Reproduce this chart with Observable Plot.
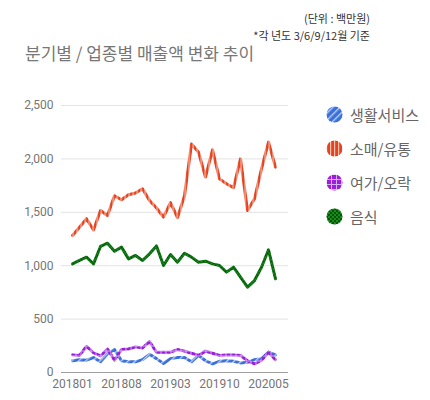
<!DOCTYPE html>
<html><head><meta charset="utf-8">
<script src="https://cdn.jsdelivr.net/npm/d3@7"></script>
<script src="https://cdn.jsdelivr.net/npm/@observablehq/plot@0.6"></script>
<style>
body{margin:0;background:#fff;font-family:Roboto,"Noto Sans CJK KR",sans-serif;}
#wrap{position:relative;width:430px;height:400px;overflow:hidden;}
.note{position:absolute;right:60px;font-size:11px;color:#333;white-space:nowrap;font-family:"Noto Sans CJK KR",sans-serif;}
#title{position:absolute;left:25px;top:40px;font-size:17px;color:#777;white-space:nowrap;font-family:"Noto Sans CJK KR",sans-serif;}
#chart{position:absolute;left:0;top:70px;}
#legend{position:absolute;left:326px;top:97px;}
.item{display:flex;align-items:center;height:34px;font-size:15px;color:#666;font-family:"Noto Sans CJK KR",sans-serif;white-space:nowrap;}
.item svg{margin-right:7px;}
</style></head>
<body>
<svg width="0" height="0" style="position:absolute">
<defs>
<pattern id="p0" width="5" height="5" patternUnits="userSpaceOnUse" patternTransform="rotate(45)">
<rect width="5" height="5" fill="#3b6fd9"/><rect width="1.4" height="5" fill="#b9ccf2"/></pattern>
<pattern id="p1" width="4" height="4" patternUnits="userSpaceOnUse">
<rect width="4" height="4" fill="#e5421d"/><rect width="1.2" height="4" fill="#f8c2b4"/></pattern>
<pattern id="p2" width="5" height="5" patternUnits="userSpaceOnUse">
<rect width="5" height="5" fill="#9a1fd8"/><rect width="1" height="5" fill="#d7aef2"/><rect width="5" height="1" fill="#d7aef2"/></pattern>
<pattern id="p3" width="4" height="4" patternUnits="userSpaceOnUse">
<rect width="4" height="4" fill="#14901a"/><rect width="2" height="2" fill="#07500a"/><rect x="2" y="2" width="2" height="2" fill="#07500a"/></pattern>
</defs></svg>
<div id="wrap">
<div class="note" style="top:10px">(단위 : 백만원)</div>
<div class="note" style="top:27px">*각 년도 3/6/9/12월 기준</div>
<div id="title">분기별 / 업종별 매출액 변화 추이</div>
<div id="chart"></div>
<div id="legend"></div>
</div>
<script>
const months = ["201801","201802","201803","201804","201805","201806","201807","201808","201809","201810","201811","201812",
  "201901","201902","201903","201904","201905","201906","201907","201908","201909","201910","201911","201912",
  "202001","202002","202003","202004","202005","202006"];
const tickLabels = ["201801","201808","201903","201910","202005"];
const seriesNames = ["생활서비스","소매/유통","여가/오락","음식"];
const patterns = ["url(#p0)","url(#p1)","url(#p2)","url(#p3)"];
const lifeService = [110,120,115,140,100,175,215,110,100,100,120,170,130,85,130,140,140,100,160,110,80,105,110,105,90,95,120,130,190,165];
const retail = [1283,1360,1440,1335,1517,1470,1655,1617,1665,1680,1720,1610,1540,1455,1590,1450,1655,2140,2063,1830,2085,1813,1767,1730,2000,1517,1626,1907,2157,1923];
const leisure = [165,160,245,185,155,220,115,215,220,240,230,290,190,190,190,215,200,180,160,200,180,160,165,165,160,110,80,115,190,120];
const food = [1017,1049,1080,1017,1180,1211,1136,1174,1064,1096,1049,1111,1185,1002,1105,1033,1117,1080,1033,1042,1017,1002,940,986,893,799,861,986,1149,877];
const allSeries = [lifeService, retail, leisure, food];

const rows = [];
allSeries.forEach((vals, s) => vals.forEach((v, i) => rows.push({series: seriesNames[s], month: months[i], i, value: v})));
const tickIdx = tickLabels.map(t => months.indexOf(t));

const chart = Plot.plot({
  width: 300, height: 330,
  marginLeft: 61, marginRight: 12, marginTop: 35, marginBottom: 28,
  style: {fontFamily: "Roboto, sans-serif", fontSize: "12px", color: "#757575", background: "#fff"},
  x: {domain: [0, months.length - 1], insetLeft: 11, insetRight: 13},
  y: {domain: [0, 2500]},
  marks: [
    Plot.ruleY([500, 1000, 1500, 2000, 2500], {stroke: "#e3e3e3", strokeWidth: 1}),
    Plot.ruleY([0], {stroke: "#9e9e9e", strokeWidth: 1}),
    Plot.axisY({ticks: [0, 500, 1000, 1500, 2000, 2500], tickSize: 0, tickPadding: 8, tickFormat: d3.format(","), label: null, fill: "#757575"}),
    Plot.axisX({ticks: tickIdx, tickSize: 0, tickPadding: 7, tickFormat: i => months[i], label: null, fill: "#757575"}),
    ...seriesNames.map((name, s) =>
      Plot.lineY(rows.filter(r => r.series === name), {x: "i", y: "value", stroke: patterns[s], strokeWidth: 3, strokeLinejoin: "round"}))
  ]
});
document.getElementById("chart").appendChild(chart);

const legend = document.getElementById("legend");
seriesNames.forEach((name, s) => {
  const item = document.createElement("div");
  item.className = "item";
  item.innerHTML = `<svg width="17" height="17"><circle cx="8.5" cy="8.5" r="8" fill="${patterns[s]}"/></svg><span>${name}</span>`;
  legend.appendChild(item);
});
</script>
</body></html>
